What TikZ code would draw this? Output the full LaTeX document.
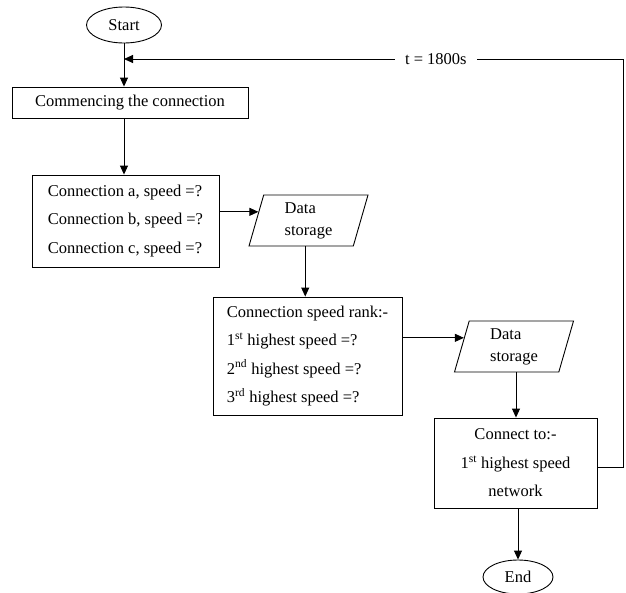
\documentclass[tikz,border=0pt]{standalone}
\usepackage{fontspec}
\setmainfont{Liberation Serif}
\usetikzlibrary{shapes.geometric,arrows.meta,calc}
\begin{document}
\begin{tikzpicture}[x=1pt,y=-1pt,
  line width=0.9pt,
  every node/.style={font=\fontsize{16.5}{28.5}\selectfont},
  terminal/.style={draw, ellipse, inner sep=0pt},
  procbox/.style={draw, rectangle, inner sep=0pt},
  iobox/.style={draw, trapezium, trapezium left angle=68, trapezium right angle=112,
    trapezium stretches body, minimum height=51pt, minimum width=119pt, inner sep=0pt,
    align=left, font=\fontsize{16.5}{22}\selectfont},
  arrow/.style={-{Triangle[length=9pt,width=8pt]}},
  lbl/.style={fill=white, inner xsep=10pt, inner ysep=2pt}
  ]
\useasboundingbox (0,0) rectangle (626,592);

\node[terminal, minimum width=75pt, minimum height=36pt] (st) at (124,25) {Start};
\node[procbox, minimum width=236pt, minimum height=31pt] (b1) at (130,102.5) {Commencing the connection};
\node[procbox, minimum width=187pt, minimum height=92pt, align=left] (b2) at (125.5,221)
  {Connection a, speed =?\\Connection b, speed =?\\Connection c, speed =?};
\node[iobox] (p1) at (308.5,220.5) {Data\\storage};
\node[procbox, minimum width=189pt, minimum height=118pt, align=left] (b3) at (307.5,356)
  {Connection speed rank:-\\1\textsuperscript{st} highest speed =?\\2\textsuperscript{nd} highest speed =?\\3\textsuperscript{rd} highest speed =?};
\node[iobox] (p2) at (514,346.5) {Data\\storage};
\node[procbox, minimum width=163pt, minimum height=90pt, align=center] (b4) at (515.5,463)
  {Connect to:-\\1\textsuperscript{st} highest speed\\network};
\node[terminal, minimum width=70pt, minimum height=34pt] (en) at (518,577) {End};

\coordinate (p1in) at ($(p1.top left corner)!0.333!(p1.bottom left corner)$);
\coordinate (p1out) at ($(p1.bottom left corner)!0.54!(p1.bottom right corner)$);
\coordinate (p2in) at ($(p2.top left corner)!0.333!(p2.bottom left corner)$);
\coordinate (p2out) at ($(p2.bottom left corner)!0.59!(p2.bottom right corner)$);
\coordinate (fb) at (623,59);

\draw[arrow] (st.south) -- (st.south |- b1.north);
\draw[arrow] (st.south |- b1.south) -- (st.south |- b2.north);
\draw[arrow] (b2.east |- p1in) -- (p1in);
\draw[arrow] (p1out) -- (p1out |- b3.north);
\draw[arrow] (b3.east |- p2in) -- (p2in);
\draw[arrow] (p2out) -- (p2out |- b4.north);
\draw[arrow] (en.north |- b4.south) -- (en.north);
\draw[arrow] ([yshift=-4pt]b4.east) -| (fb) -- node[pos=0.375, lbl] {t = 1800s} (st.south |- fb);
\end{tikzpicture}
\end{document}
